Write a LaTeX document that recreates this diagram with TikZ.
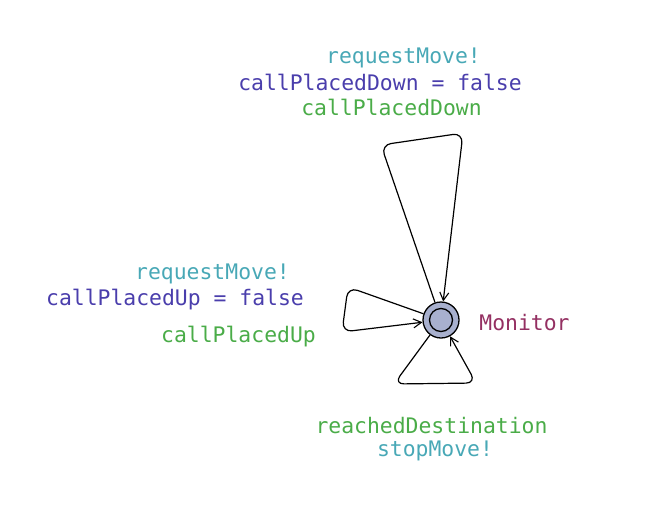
\documentclass[tikz,border=0pt]{standalone}
\usepackage{fontspec}
\setmonofont{DejaVu Sans Mono}
\usetikzlibrary{arrows.meta}
\definecolor{synccol}{RGB}{72,168,182}
\definecolor{updcol}{RGB}{74,62,172}
\definecolor{guardcol}{RGB}{74,172,72}
\definecolor{namecol}{RGB}{148,48,98}
\definecolor{loccol}{RGB}{168,176,206}
\tikzset{
  lbl/.style={font=\ttfamily\fontsize{21.4}{25}\selectfont, inner sep=0pt},
  edge/.style={draw, line width=1.2pt, rounded corners=10pt, -{Straight Barb[length=8pt,width=9pt,line width=1.1pt]}},
}
\begin{document}
\begin{tikzpicture}[x=1pt,y=-1pt]
                \useasboundingbox (0,0) rectangle (668,514);
                \node[circle, draw, line width=1.3pt, fill=loccol, minimum size=36pt, inner sep=0pt] (mon) at (441,320) {};
                \node[circle, draw, line width=1.3pt, minimum size=23pt, inner sep=0pt] (moninner) at (mon) {};
                \node[lbl, text=namecol] (monname) at (524.5,323) {Monitor};
                % top loop
                \coordinate (t1) at (381,145);
                \coordinate (t2) at (463,133);
                \draw[edge] (mon) -- (t1) -- (t2) -- (mon);
                \node[lbl, text=synccol] (topsync) at (403.5,58) {requestMove!};
                \node[lbl, text=updcol] (topupd) at (380,82) {callPlacedDown = false};
                \node[lbl, text=guardcol] (topguard) at (391.5,107.5) {callPlacedDown};
                % left loop
                \coordinate (l1) at (348,287);
                \coordinate (l2) at (342,332);
                \draw[edge] (mon) -- (l1) -- (l2) -- (mon);
                \node[lbl, text=synccol] (leftsync) at (212.5,274) {requestMove!};
                \node[lbl, text=updcol] (leftupd) at (175,300) {callPlacedUp = false};
                \node[lbl, text=guardcol] (leftguard) at (238.5,337) {callPlacedUp};
                % bottom loop
                \coordinate (b1) at (394,384);
                \coordinate (b2) at (476,383);
                \draw[edge] (mon) -- (b1) -- (b2) -- (mon);
                \node[lbl, text=guardcol] (botguard) at (431.5,425.5) {reachedDestination};
                \node[lbl, text=synccol] (botsync) at (435,451) {stopMove!};
\end{tikzpicture}
\end{document}
